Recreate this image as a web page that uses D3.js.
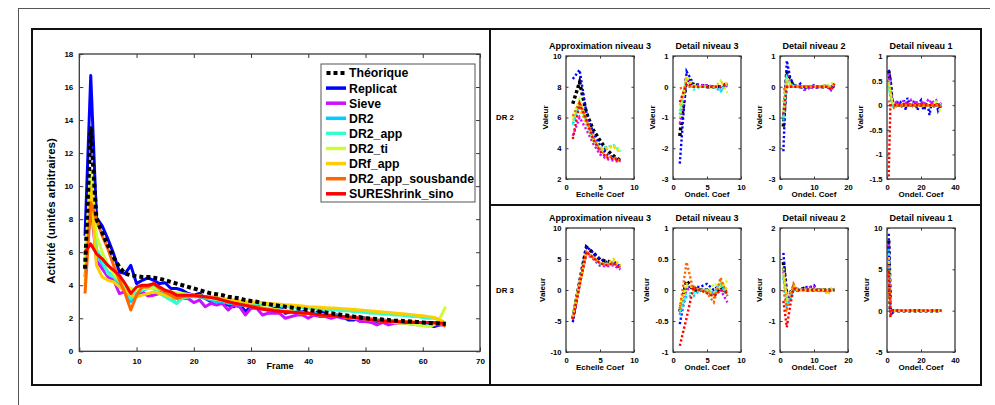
<!DOCTYPE html>
<html><head><meta charset="utf-8">
<script src="https://cdn.jsdelivr.net/npm/d3@7"></script>
<style>
body{margin:0;background:#fff;}
text{font-family:"Liberation Sans",Arial,Helvetica,sans-serif;font-weight:bold;fill:#000;}
</style>
</head><body>
<svg id="c" width="995" height="405"></svg>
<script>
// ---------- DATA ----------
const seriesNames = ["Théorique","Replicat","Sieve","DR2","DR2_app","DR2_ti","DRf_app","DR2_app_sousbande","SUREShrink_sino"];
const seriesColors = ["#000000","#0000ff","#cc11ff","#00ccff","#33ffcc","#ccff33","#ffcc00","#ff6600","#ff0000"];

// Main plot: activity per frame (frames 1..64)
const actTheo = [5.0,13.5,8.0,7.2,6.4,5.7,5.1,4.7,4.6,4.55,4.5,4.5,4.45,4.4,4.3,4.2,4.1,4.0,3.9,3.8,3.7,3.6,3.5,3.45,3.4,3.3,3.25,3.2,3.1,3.05,3.0,2.9,2.85,2.8,2.75,2.7,2.65,2.6,2.55,2.5,2.45,2.4,2.35,2.3,2.25,2.2,2.15,2.1,2.05,2.0,1.98,1.95,1.92,1.9,1.87,1.85,1.82,1.8,1.78,1.75,1.72,1.7,1.68,1.65];
const actReplicat = [7.0,16.7,8.1,7.6,6.8,5.9,4.8,4.7,5.2,4.1,4.3,4.45,4.3,4.1,4.15,3.8,3.8,3.7,3.5,3.4,3.5,3.2,3.0,3.1,2.9,2.8,2.7,2.9,2.4,2.7,2.8,2.6,2.5,2.6,2.7,2.3,2.4,2.3,2.4,2.3,2.2,2.5,2.2,2.1,2.2,2.1,1.9,1.9,2.1,2.0,1.9,1.8,1.9,1.8,1.8,1.8,1.7,1.7,1.7,1.7,1.6,1.5,1.6,1.6];
const actSieve = [4.5,9.0,5.5,5.0,4.5,4.3,3.5,3.6,3.2,3.4,3.6,3.35,3.4,3.5,3.5,3.3,3.3,3.2,3.2,2.95,3.1,2.7,2.9,2.8,2.9,2.5,2.8,2.7,2.2,2.6,2.6,2.2,2.3,2.3,2.3,2.0,2.1,2.2,2.2,2.0,2.2,2.1,2.1,2.0,2.1,2.0,2.0,2.0,1.8,1.8,1.75,1.6,1.75,1.6,1.7,1.7,1.7,1.65,1.6,1.6,1.6,1.6,1.6,1.6];
const actDR2 = [5.0,10.0,6.0,5.3,4.8,4.5,4.0,3.8,3.0,3.5,3.7,3.8,3.9,3.6,3.4,3.2,2.9,3.3,3.3,3.3,3.3,3.2,3.1,3.0,3.0,2.9,2.9,2.8,2.75,2.7,2.65,2.6,2.55,2.5,2.5,2.45,2.4,2.4,2.35,2.3,2.3,2.25,2.2,2.2,2.15,2.1,2.1,2.05,2.0,2.0,1.95,1.9,1.9,1.85,1.85,1.8,1.8,1.75,1.75,1.7,1.7,1.65,1.65,1.6];
const actDR2app = [5.5,10.5,6.2,5.5,4.7,4.5,4.2,3.9,3.2,3.6,3.7,3.9,3.8,3.5,3.3,3.1,2.9,3.2,3.3,3.35,3.35,3.3,3.25,3.2,3.15,3.1,3.05,3.0,2.95,2.9,2.9,2.85,2.8,2.8,2.75,2.7,2.7,2.65,2.65,2.6,2.6,2.55,2.55,2.5,2.5,2.45,2.45,2.4,2.4,2.35,2.3,2.3,2.25,2.25,2.2,2.2,2.15,2.1,2.1,2.05,2.0,2.0,1.9,1.7];
const actDR2ti = [5.0,11.0,7.0,6.0,5.2,4.7,4.3,4.0,3.8,3.7,3.8,3.8,3.85,3.75,3.7,3.6,3.55,3.5,3.45,3.4,3.35,3.3,3.2,3.15,3.1,3.0,2.95,2.9,2.8,2.75,2.7,2.65,2.6,2.55,2.5,2.45,2.4,2.35,2.3,2.3,2.25,2.2,2.2,2.15,2.1,2.1,2.05,2.0,2.0,1.95,1.9,1.85,1.85,1.8,1.75,1.7,1.7,1.65,1.6,1.55,1.5,1.6,2.0,2.7];
const actDRfapp = [4.0,10.0,5.2,4.5,4.3,4.2,3.9,3.7,3.4,3.3,3.4,3.5,3.6,3.5,3.4,3.3,3.2,3.3,3.3,3.4,3.35,3.3,3.3,3.25,3.2,3.15,3.1,3.05,3.02,3.0,2.97,2.94,2.9,2.88,2.85,2.82,2.8,2.77,2.74,2.7,2.68,2.66,2.64,2.62,2.6,2.58,2.56,2.53,2.5,2.47,2.44,2.41,2.38,2.35,2.32,2.29,2.26,2.22,2.18,2.15,2.1,2.05,1.9,1.7];
const actSousbande = [3.5,9.0,8.0,7.0,6.2,5.2,4.3,3.5,2.5,3.4,3.9,3.9,4.1,3.8,3.6,3.4,3.2,3.3,3.35,3.35,3.3,3.3,3.25,3.2,3.1,3.0,2.9,2.85,2.8,2.75,2.7,2.6,2.55,2.5,2.45,2.4,2.4,2.35,2.3,2.3,2.25,2.2,2.2,2.15,2.1,2.1,2.05,2.05,2.0,2.0,1.95,1.9,1.9,1.85,1.85,1.8,1.8,1.8,1.75,1.75,1.75,1.7,1.7,1.5];
const actSURE = [6.0,6.5,5.9,5.6,5.2,4.9,4.6,4.1,3.5,3.9,4.0,4.0,4.1,3.9,3.7,3.6,3.4,3.4,3.4,3.4,3.35,3.3,3.25,3.2,3.1,3.0,2.92,2.85,2.78,2.7,2.62,2.55,2.5,2.45,2.42,2.4,2.37,2.35,2.32,2.3,2.25,2.2,2.18,2.15,2.12,2.1,2.07,2.05,2.0,1.95,1.9,1.85,1.82,1.8,1.8,1.78,1.75,1.75,1.75,1.75,1.75,1.75,1.72,1.7];
const mainXTicks = [0,10,20,30,40,50,60,70];
const mainYTicks = [0,2,4,6,8,10,12,14,16,18];

// Small panels (series in the same order as seriesNames)
const panelTitles = ["Approximation niveau 3","Detail niveau 3","Detail niveau 2","Detail niveau 1"];
const panelXLabels = ["Echelle Coef","Ondel. Coef","Ondel. Coef","Ondel. Coef"];
const panelXDomains = [[0,10],[0,10],[0,20],[0,40]];
const panelXTicks = [[0,5,10],[0,5,10],[0,10,20],[0,20,40]];
const rowLabels = ["DR 2","DR 3"];
const dr2YDomains = [[2,10],[-3,1],[-3,1],[-1.5,1]];
const dr2YTicks = [[2,4,6,8,10],[-3,-2,-1,0,1],[-3,-2,-1,0,1],[-1.5,-1,-0.5,0,0.5,1]];
const dr3YDomains = [[-10,10],[-1,1],[-2,2],[-5,10]];
const dr3YTicks = [[-10,-5,0,5,10],[-1,-0.5,0,0.5,1],[-2,-1,0,1,2],[-5,0,5,10]];

const dr2Approx3 = [
 [6.9,8.3,6.3,5.2,4.5,3.9,3.5,3.2],
 [8.5,9.1,6.3,5.0,4.2,3.6,3.4,3.2],
 [4.8,6.0,5.2,4.3,3.6,3.3,3.2,3.1],
 [5.6,6.8,5.6,4.5,3.9,4.0,4.2,3.8],
 [5.5,7.0,5.7,4.6,4.0,4.1,4.2,3.8],
 [6.0,7.2,5.8,4.7,4.0,4.0,4.2,3.8],
 [5.8,6.6,5.5,4.5,3.9,4.0,4.1,3.7],
 [6.1,7.0,5.9,4.7,3.9,3.5,3.4,3.2],
 [4.6,6.9,5.8,4.6,3.8,3.4,3.3,3.2]
];
const dr2Detail3 = [
 [-1.6,0.3,0.05,0.05,0.0,0.0,0.0,0.1],
 [-2.5,0.5,0.1,0.05,0.05,0.0,-0.05,0.1],
 [-1.2,0.3,0.0,0.05,0.05,0.0,-0.1,0.05],
 [-0.9,0.25,0.0,0.0,0.0,0.0,-0.15,0.05],
 [-0.8,0.3,-0.1,0.0,0.0,0.0,-0.1,0.1],
 [-1.0,0.35,0.05,0.0,0.0,-0.05,0.2,-0.2],
 [-0.6,0.25,0.0,0.0,0.0,0.0,0.15,0.1],
 [-0.05,0.0,0.0,0.0,0.0,0.0,0.0,0.1],
 [-0.5,0.1,0.0,0.0,0.0,0.0,0.0,0.1]
];
const dr2Detail2 = [
 [-1.3,0.5,0.2,0.05,0,0,0,0,0,0,0,0,0,0,-0.05,0.05],
 [-2.1,0.85,0.3,0.05,0.0,0.1,-0.1,-0.05,0.0,0.05,-0.05,0.0,0.0,0.05,-0.1,0.1],
 [-1.0,0.4,0.1,0.0,0.0,0.05,-0.1,-0.1,0.0,-0.05,0.0,0.0,0.05,0.0,-0.1,0.1],
 [-1.1,0.3,0.1,0,0,0,0,0,0,0,0,0,0,0,-0.05,0.1],
 [-1.0,0.3,0.1,0,0.05,0,0,0,0,0,0,0,0,0.05,0,0.1],
 [-0.8,0.3,0.1,0,0,0,0,0,0,0,0,0,0.05,0.05,0.1,0.15],
 [-0.5,0.2,0.05,0,0,0,0,0,0,0,0,0,0,0,0,0.1],
 [-0.1,0,0,0,0,0,0,0,0,0,0,0,0,0,-0.05,0.1],
 [-0.9,0,0,0,0,0,0,0,0,0,0,0,0,0,-0.1,0.1]
];
const dr2Detail1 = [
 [0.7,0.45,0.05,0,0,0,0,0,0,0,0,0,0,0,0,0,0,0,0,0,0,0,0,0,0,0,0,0,0,0,0,0],
 [0.72,0.55,0.1,0.05,-0.05,0.05,0,0.05,-0.05,0.1,-0.1,0.15,0.05,-0.05,0,0.1,0,-0.1,0.05,0.1,-0.05,-0.1,0.05,0,-0.2,0,0.05,-0.05,0.05,-0.1,0,-0.05],
 [0.65,0.3,0.05,0,0.05,0,0.05,0,0.05,0.1,0.05,0,0.05,0.1,0,0.05,0.1,0,0.05,0.05,0.1,0,0.05,0.1,0.05,0.1,0,0.05,0.1,0.05,0,0.05],
 [0.4,0.2,0.05,0,0,0,0,0,0,0,0,0,0,0,0,0,0,0,0,0,0,0,0,0,0,0,0,0,0,0,0,0],
 [0.35,0.2,0.05,-0.05,0,0,0,0,0,0,0,0,0,0,0,0,0,0,0,0,0,0,0,0,0,0,0,0,0,0,0,0],
 [0.5,0.3,0.1,0,0,0,0,0,0,0,0,0,0,0,0,0,0,0,0,0,0,0,0,0,0,0,0,0.05,0.1,0,-0.1,-0.05],
 [0.45,0.25,0.05,0,0,0,0,0,0,0,0,0,0,0,0,0,0,0,0,0,0,0,0,0,0,0,0,0,0,0,0,0],
 [0.1,0,0,-0.05,0,0,0,0,0,0,0,0,0,0,0,0,0,0,0,0,0,0,0,0,0,0,0,0,0,0,0,-0.05],
 [-1.45,0,0,0,0,0,0,0,0,0,0,0,0,0,0,0,0,0,0,0,0,0,0,0,0,0,0,0,0,0,0,0]
];
const dr3Approx3 = [
 [-4.6,1.2,6.9,6.0,4.9,4.6,4.5,3.7],
 [-5.2,1.0,7.0,6.0,5.0,4.5,4.5,3.8],
 [-4.8,0.8,5.8,5.0,3.9,3.8,4.0,3.3],
 [-4.5,0.9,6.0,5.2,4.2,4.0,4.5,3.6],
 [-4.4,0.9,6.0,5.3,4.3,4.0,4.6,3.7],
 [-4.2,1.0,6.1,5.3,4.4,4.1,4.8,3.9],
 [-4.3,1.0,6.0,5.3,4.4,4.2,5.0,4.0],
 [-4.6,0.9,6.1,5.2,4.3,4.0,4.4,3.6],
 [-4.7,0.8,6.2,5.2,4.3,4.0,4.3,3.4]
];
const dr3Detail3 = [
 [-0.35,0.15,0.0,0.0,0.0,-0.1,0.05,-0.05],
 [-0.55,0.05,0.05,0.05,0.1,0.0,0.1,-0.05],
 [-0.4,0.0,0.05,0.0,0.0,-0.05,0.0,-0.2],
 [-0.4,-0.1,-0.1,0.0,0.0,-0.05,0.1,-0.1],
 [-0.35,-0.05,-0.05,0.0,0.0,-0.05,0.1,-0.05],
 [-0.3,0.05,0.05,0.0,-0.05,0.1,0.05,0.15],
 [-0.25,0.1,0.05,0.0,0.0,-0.1,0.15,0.0],
 [-0.3,0.45,0.0,0.0,-0.05,-0.2,0.2,-0.1],
 [-0.9,-0.45,0.05,0.0,-0.05,-0.1,0.0,-0.05]
];
const dr3Detail2 = [
 [0.9,-0.2,-0.1,0.1,0,0,0.05,0,0,0,0,0,0,0,0,0],
 [1.2,-0.3,-0.2,0.1,0,0.05,0.05,0.1,0.1,0.15,0,0,0,-0.1,0,0.05],
 [0.6,-0.25,-0.1,0,0,0,0.05,0.05,0.1,0.1,0,0,-0.05,0,0,0],
 [0.4,-0.5,-0.3,0,0.05,0,0,0,0,0,0,0,0,0,0,0],
 [0.5,-0.4,-0.3,0.05,0,0,0,0,0,0,0,0,0,0,0,0],
 [0.7,-0.3,-0.2,0.1,0,0,0,0,0,0,0,0,0,0,0.05,0.1],
 [0.5,-0.2,-0.1,0.15,0,0,0,0,0,0,0,0,0,-0.15,0,0.05],
 [0,-0.6,-0.3,0.2,0,0,0,0,0,0,0,0,0,0,0,0],
 [-0.35,-1.2,-0.5,0.05,0,0,0,0,0,0,0,0,0,0,0,0]
];
const dr3Detail1 = [
 [8.5,0,0,0,0,0,0,0,0,0,0,0,0,0,0,0,0,0,0,0,0,0,0,0,0,0,0,0,0,0,0,0],
 [9.3,0,-0.3,-0.2,0,0,0,0,0,0,0,0,0,0,0,0,0,0,0,0,0,0,0,0,0,0,0,0,0,0,0,0],
 [8.0,0,0,0,0,0,0,0,0,0,0,0,0,0,0,0,0,0,0,0,0,0,0,0,0,0,0,0,0,0,0,0],
 [7.5,0,0,0,0,0,0,0,0,0,0,0,0,0,0,0,0,0,0,0,0,0,0,0,0,0,0,0,0,0,0,0],
 [7.0,0,0,0,0,0,0,0,0,0,0,0,0,0,0,0,0,0,0,0,0,0,0,0,0,0,0,0,0,0,0,0],
 [6.0,0,0,0,0,0,0,0,0,0,0,0,0,0,0,0,0,0,0,0,0,0,0,0,0,0,0,0,0,0,0,0],
 [6.5,0,0,0,0,0,0,0,0,0,0,0,0,0,0,0,0,0,0,0,0,0,0,0,0,0,0,0,0,0,0,0],
 [5.5,-0.5,0,0,0,0,0,0,0,0,0,0,0,0,0,0,0,0,0,0,0,0,0,0,0,0,0,0,0,0,0,0],
 [4.8,-0.8,0,0,0,0,0,0,0,0,0,0,0,0,0,0,0,0,0,0,0,0,0,0,0,0,0,0,0,0,0,0]
];

// ---------- DRAW ----------
const svg = d3.select("#c");
const fmt = d => String(d);
const AX = "#3a3a3a";

// outer frames
svg.append("line").attr("x1",18).attr("x2",990).attr("y1",8.5).attr("y2",8.5).attr("stroke","#555").attr("stroke-width",1);
svg.append("line").attr("x1",18.5).attr("x2",18.5).attr("y1",8).attr("y2",405).attr("stroke","#555").attr("stroke-width",1);
svg.append("rect").attr("x",32).attr("y",29).attr("width",458).attr("height",356).attr("fill","none").attr("stroke","#111").attr("stroke-width",2);
svg.append("rect").attr("x",490).attr("y",29).attr("width",491).attr("height",176).attr("fill","none").attr("stroke","#111").attr("stroke-width",2);
svg.append("rect").attr("x",490).attr("y",205).attr("width",491).attr("height",180).attr("fill","none").attr("stroke","#111").attr("stroke-width",2);

function boxAxes(g, x, y, xt, yt, tick, fs, showX=true){
  const [x0,x1] = x.range(), [y0,y1] = y.range();
  const b = g.append("g").attr("transform",`translate(0,${y0})`)
    .call(d3.axisBottom(x).tickValues(xt).tickFormat(fmt).tickSizeInner(-tick).tickSizeOuter(0).tickPadding(tick+3));
  const t = g.append("g").attr("transform",`translate(0,${y1})`)
    .call(d3.axisTop(x).tickValues(xt).tickFormat("").tickSizeInner(-tick).tickSizeOuter(0));
  const l = g.append("g").attr("transform",`translate(${x0},0)`)
    .call(d3.axisLeft(y).tickValues(yt).tickFormat(fmt).tickSizeInner(-tick).tickSizeOuter(0).tickPadding(tick+2));
  const r = g.append("g").attr("transform",`translate(${x1},0)`)
    .call(d3.axisRight(y).tickValues(yt).tickFormat("").tickSizeInner(-tick).tickSizeOuter(0));
  [b,t,l,r].forEach(a=>{
    a.select(".domain").remove();
    a.selectAll("line").attr("stroke",AX);
    a.selectAll("text").attr("font-size",fs).attr("font-family",'"Liberation Sans",Arial,sans-serif').attr("font-weight","bold").attr("fill","#000");
  });
  g.append("rect").attr("x",x0).attr("y",y1).attr("width",x1-x0).attr("height",y0-y1)
    .attr("fill","none").attr("stroke",AX).attr("stroke-width",1.3);
  return l;
}

// ---- main plot ----
const mainSeries = [actTheo,actReplicat,actSieve,actDR2,actDR2app,actDR2ti,actDRfapp,actSousbande,actSURE];
const mx = d3.scaleLinear().domain([0,70]).range([79.3,480]);
const my = d3.scaleLinear().domain([0,18]).range([351.3,54]);
const gm = svg.append("g");
const line = d3.line().x((d,i)=>mx(i+1)).y(d=>my(d));
const order = [1,2,3,4,5,6,7,8,0];
order.forEach(si=>{
  const p = gm.append("path").datum(mainSeries[si]).attr("d",line).attr("fill","none")
    .attr("stroke",seriesColors[si]).attr("stroke-linejoin","round");
  if(si===0) p.attr("stroke-width",4).attr("stroke-dasharray","4,3");
  else p.attr("stroke-width",3);
});
boxAxes(gm, mx, my, mainXTicks, mainYTicks, 4, 8);
gm.append("text").attr("x",280).attr("y",369).attr("text-anchor","middle").attr("font-size",9).text("Frame");
gm.append("text").attr("transform","translate(55,211) rotate(-90)").attr("text-anchor","middle").attr("font-size",11.5).text("Activité (unités arbitraires)");

// legend
const lg = gm.append("g");
lg.append("rect").attr("x",321).attr("y",64).attr("width",154).attr("height",138).attr("fill","#fff").attr("stroke","#555").attr("stroke-width",1);
seriesNames.forEach((n,i)=>{
  const yy = 73 + i*15.1;
  const l = lg.append("line").attr("x1",326).attr("x2",346).attr("y1",yy).attr("y2",yy).attr("stroke",seriesColors[i]);
  if(i===0) l.attr("stroke-width",4).attr("stroke-dasharray","4,3").attr("x1",326.5);
  else l.attr("stroke-width",3.5);
  lg.append("text").attr("x",349).attr("y",yy+4.4).attr("font-size",12.3).text(n);
});

// ---- small panels ----
const panelLefts = [566,673,780,887];
const panelW = 68;
const rows = [
  {top:56,bottom:179, yd:dr2YDomains, yt:dr2YTicks, data:[dr2Approx3,dr2Detail3,dr2Detail2,dr2Detail1], label:rowLabels[0], ly:120},
  {top:228,bottom:352, yd:dr3YDomains, yt:dr3YTicks, data:[dr3Approx3,dr3Detail3,dr3Detail2,dr3Detail1], label:rowLabels[1], ly:293}
];
rows.forEach((row,ri)=>{
  svg.append("text").attr("x",496).attr("y",row.ly).attr("font-size",7.8).text(row.label);
  panelLefts.forEach((L,pi)=>{
    const g = svg.append("g");
    const x = d3.scaleLinear().domain(panelXDomains[pi]).range([L,L+panelW]);
    const y = d3.scaleLinear().domain(row.yd[pi]).range([row.bottom,row.top]);
    const cid = `clip${ri}${pi}`;
    g.append("clipPath").attr("id",cid).append("rect").attr("x",L).attr("y",row.top).attr("width",panelW).attr("height",row.bottom-row.top);
    const pl = g.append("g").attr("clip-path",`url(#${cid})`);
    const ln = d3.line().x((d,i)=>x(i+1)).y(d=>y(d));
    row.data[pi].forEach((s,si)=>{
      const p = pl.append("path").datum(s).attr("d",ln).attr("fill","none").attr("stroke",seriesColors[si]);
      if(si===0) p.attr("stroke-width",3.5).attr("stroke-dasharray","3,2.5");
      else p.attr("stroke-width",2.4).attr("stroke-dasharray","2.2,2.2");
    });
    const la = boxAxes(g, x, y, panelXTicks[pi], row.yt[pi], 2.5, 7.6);
    let mw = 0; la.selectAll("text").each(function(){ mw = Math.max(mw,this.getBBox().width); });
    g.append("text").attr("x",L+panelW/2).attr("y",row.top-7).attr("text-anchor","middle").attr("font-size",9).text(panelTitles[pi]);
    g.append("text").attr("x",L+panelW/2).attr("y",row.bottom+18).attr("text-anchor","middle").attr("font-size",8).text(panelXLabels[pi]);
    g.append("text").attr("transform",`translate(${L-mw-10},${(row.top+row.bottom)/2}) rotate(-90)`).attr("text-anchor","middle").attr("font-size",8).text("Valeur");
  });
});
</script>
</body></html>
